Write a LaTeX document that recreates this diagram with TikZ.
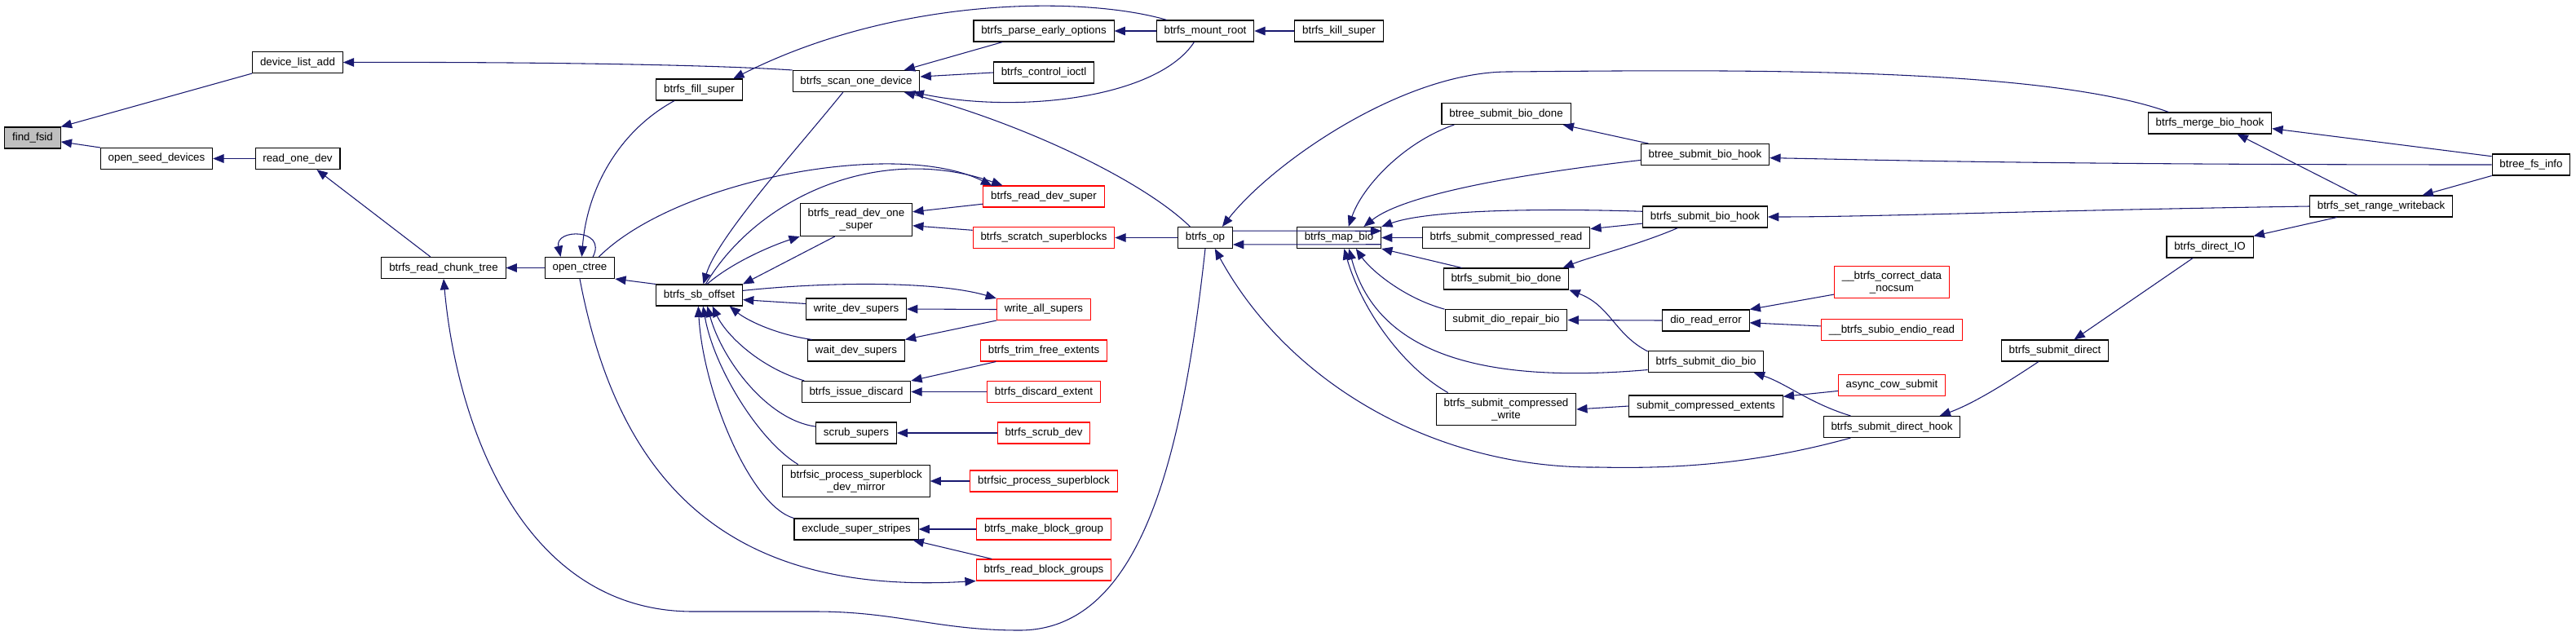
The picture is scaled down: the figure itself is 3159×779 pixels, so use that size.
\documentclass[tikz,border=0pt]{standalone}
\usepackage{fontspec}
\setmainfont{Liberation Sans}
\usepackage{xcolor}
\usepackage{tikz}
\usetikzlibrary{arrows.meta}

\definecolor{edgeblue}{RGB}{25,25,112}

\begin{document}
\begin{tikzpicture}[x=0.75pt, y=-0.75pt,
    fn/.style={draw=black, line width=0.8pt, fill=white, align=center,
        font=\fontsize{10}{11.25}\selectfont, inner xsep=7pt, inner ysep=4.7pt,
        minimum height=19.5pt},
    fnred/.style={fn, draw=red},
    fnroot/.style={fn, fill=black!25},
    call/.style={draw=edgeblue, line width=0.8pt, -{Triangle[length=10pt, width=8pt]}}]
    \useasboundingbox (0,0) rectangle (3159,779);

    % Left part
    \node[fnroot] (findfsid) at (40,169) {find\_fsid};
    \node[fn] (devlistadd) at (365,76.5) {device\_list\_add};
    \node[fn] (openseed) at (192,194.5) {open\_seed\_devices};
    \node[fn] (readonedev) at (365,194.5) {read\_one\_dev};
    \node[fn] (readchunk) at (544,328.5) {btrfs\_read\_chunk\_tree};
    \node[fn] (openctree) at (711,328.5) {open\_ctree};
    \node[fn] (fillsuper) at (857.5,110) {btrfs\_fill\_super};
    \node[fn] (sboffset) at (857.5,362) {btrfs\_sb\_offset};

    % Callers of btrfs_sb_offset
    \node[fn] (scanone) at (1050,99.5) {btrfs\_scan\_one\_device};
    \node[fn] (readdevone) at (1050,269.5) {btrfs\_read\_dev\_one\\\_super};
    \node[fn] (writedev) at (1050,379) {write\_dev\_supers};
    \node[fn] (waitdev) at (1050,430) {wait\_dev\_supers};
    \node[fn] (issuediscard) at (1050,480.5) {btrfs\_issue\_discard};
    \node[fn] (scrubsupers) at (1050,531) {scrub\_supers};
    \node[fn] (devmirror) at (1050,590) {btrfsic\_process\_superblock\\\_dev\_mirror};
    \node[fn] (exclstripes) at (1050,649) {exclude\_super\_stripes};
    \node[fn] (parseopts) at (1280,38) {btrfs\_parse\_early\_options};
    \node[fn] (ctlioctl) at (1280,89) {btrfs\_control\_ioctl};
    \node[fnred] (readdevsuper) at (1280,241) {btrfs\_read\_dev\_super};
    \node[fnred] (scratchsb) at (1280,291.5) {btrfs\_scratch\_superblocks};
    \node[fnred] (writeall) at (1280,379.5) {write\_all\_supers};
    \node[fnred] (trimfree) at (1280,430) {btrfs\_trim\_free\_extents};
    \node[fnred] (discardext) at (1280,480.5) {btrfs\_discard\_extent};
    \node[fnred] (scrubdev) at (1280,531) {btrfs\_scrub\_dev};
    \node[fnred] (procsb) at (1280,590) {btrfsic\_process\_superblock};
    \node[fnred] (makebg) at (1280,649) {btrfs\_make\_block\_group};
    \node[fnred] (readbg) at (1280,699) {btrfs\_read\_block\_groups};

    % Middle part
    \node[fn] (mountroot) at (1478,38) {btrfs\_mount\_root};
    \node[fn] (btrfsop) at (1478,291.5) {btrfs\_op};
    \node[fn] (killsuper) at (1642,38) {btrfs\_kill\_super};
    \node[fn] (mapbio) at (1642,291.5) {btrfs\_map\_bio};
    \node[fn] (btreedone) at (1847,139.5) {btree\_submit\_bio\_done};
    \node[fn] (compread) at (1847,291.5) {btrfs\_submit\_compressed\_read};
    \node[fn] (biodone) at (1847,342) {btrfs\_submit\_bio\_done};
    \node[fn] (diorepair) at (1847,392.5) {submit\_dio\_repair\_bio};
    \node[fn] (compwrite) at (1847,502) {btrfs\_submit\_compressed\\\_write};
    \node[fn] (btreehook) at (2091,189.5) {btree\_submit\_bio\_hook};
    \node[fn] (biohook) at (2091,266) {btrfs\_submit\_bio\_hook};
    \node[fn] (dioreaderr) at (2092,393) {dio\_read\_error};
    \node[fn] (diobio) at (2092,443.5) {btrfs\_submit\_dio\_bio};
    \node[fn] (compext) at (2092,498) {submit\_compressed\_extents};

    % Right part
    \node[fnred] (correctdata) at (2320,346) {\_\_btrfs\_correct\_data\\\_nocsum};
    \node[fnred] (subioread) at (2320,404.5) {\_\_btrfs\_subio\_endio\_read};
    \node[fnred] (asynccow) at (2320,472.5) {async\_cow\_submit};
    \node[fn] (directhook) at (2320,523.5) {btrfs\_submit\_direct\_hook};
    \node[fn] (submitdirect) at (2520,430) {btrfs\_submit\_direct};
    \node[fn] (mergehook) at (2710,151) {btrfs\_merge\_bio\_hook};
    \node[fn] (directio) at (2710,303) {btrfs\_direct\_IO};
    \node[fn] (setrange) at (2920,253) {btrfs\_set\_range\_writeback};
    \node[fn] (fsinfo) at (3104,202) {btree\_fs\_info};

    % Straight calls
    \foreach \a/\b in {devlistadd.south west/findfsid.north east, openseed.north west/findfsid.-8,
        readonedev.west/openseed.east, readchunk.140/readonedev.-30, openctree.west/readchunk.east,
        sboffset.north west/openctree.south east, parseopts.195/scanone.13, ctlioctl.west/scanone.4,
        mountroot.west/parseopts.east, killsuper.west/mountroot.east, readdevone.-142/sboffset.north east,
        readdevsuper.-173/readdevone.8, scratchsb.174/readdevone.-6, btrfsop.west/scratchsb.east,
        btrfsop.14/mapbio.9, mapbio.-9/btrfsop.-14, writedev.174/sboffset.-6, writeall.west/writedev.east,
        writeall.south west/waitdev.north east, trimfree.193/issuediscard.north east,
        discardext.west/issuediscard.east, scrubdev.west/scrubsupers.east, procsb.west/devmirror.east,
        makebg.west/exclstripes.east, readbg.168/exclstripes.-11, btreehook.169/btreedone.-11,
        biohook.186/compread.6, compread.west/mapbio.east, biodone.166/mapbio.south east,
        dioreaderr.west/diorepair.east, correctdata.192/dioreaderr.north east, subioread.177/dioreaderr.-3,
        asynccow.186/compext.7, compext.west/compwrite.east, directio.-147/submitdirect.30,
        setrange.-166/directio.north east, setrange.155/mergehook.-22, fsinfo.168/mergehook.-5,
        fsinfo.south west/setrange.15} {
        \draw[call] (\a) -- (\b);
    }

    % Curved calls, left part
    \draw[call] (scanone.north west) .. controls (850,78) and (600,76) .. (devlistadd.east);
    \draw[call] (btrfsop.south) .. controls (1450,560) and (1400,773) .. (1250,773)
        .. controls (1150,773) and (1100,750) .. (1000,750) -- (850,750)
        .. controls (640,750) and (560,520) .. (readchunk.south);
    \draw[call] (openctree.40) .. controls (745,280) and (680,280) .. (openctree.150);
    \draw[call] (openctree.south) .. controls (760,600) and (900,730) .. (readbg.south west);
    \draw[call] (openctree.30) .. controls (830,220) and (1100,170) .. (readdevsuper.168);
    \draw[call] (sboffset.60) .. controls (930,240) and (1080,175) .. (readdevsuper.165);
    \draw[call] (fillsuper.-156) .. controls (760,160) and (720,230) .. (openctree.80);
    \draw[call] (mountroot.164) .. controls (1330,-5) and (1100,-5) .. (fillsuper.18);
    \draw[call] (mountroot.-135) .. controls (1420,120) and (1250,140) .. (scanone.-11);
    \draw[call] (btrfsop.144) .. controls (1400,220) and (1250,150) .. (scanone.-13);
    \draw[call] (scanone.-140) .. controls (980,180) and (880,290) .. (sboffset.70);
    \draw[call] (sboffset.55) .. controls (900,320) and (950,300) .. (readdevone.south west);
    \draw[call] (sboffset.6) .. controls (1020,345) and (1150,345) .. (writeall.north west);
    \draw[call] (waitdev.166) .. controls (950,410) and (915,392) .. (sboffset.-20);
    \draw[call] (issuediscard.168) .. controls (930,450) and (890,410) .. (sboffset.-40);
    \draw[call] (scrubsupers.171) .. controls (940,515) and (885,440) .. (sboffset.-54);
    \draw[call] (devmirror.164) .. controls (930,540) and (875,450) .. (sboffset.-71);
    \draw[call] (exclstripes.170) .. controls (920,620) and (862,480) .. (sboffset.-95);

    % Curved calls, right part
    \draw[call] (mergehook.165) .. controls (2500,80) and (2100,86) .. (1850,88)
        .. controls (1720,88) and (1560,200) .. (btrfsop.33);
    \draw[call] (btreedone.192) .. controls (1720,175) and (1670,230) .. (mapbio.49);
    \draw[call] (btreehook.185) .. controls (1850,215) and (1720,240) .. (mapbio.24);
    \draw[call] (fsinfo.west) .. controls (2500,202) and (2300,196) .. (btreehook.-3);
    \draw[call] (biohook.175) .. controls (1880,255) and (1750,258) .. (mapbio.north east);
    \draw[call] (biohook.-158) .. controls (2010,300) and (1950,315) .. (biodone.11);
    \draw[call] (setrange.west) .. controls (2500,258) and (2300,266) .. (biohook.east);
    \draw[call] (diorepair.170) .. controls (1720,365) and (1680,330) .. (mapbio.-33);
    \draw[call] (diobio.188) .. controls (1830,470) and (1690,440) .. (mapbio.-48);
    \draw[call] (compwrite.164) .. controls (1720,450) and (1670,380) .. (mapbio.-65);
    \draw[call] (directhook.195) .. controls (2150,570) and (2050,575) .. (1960,573)
        .. controls (1760,575) and (1580,470) .. (btrfsop.-49);
    \draw[call] (diobio.170) .. controls (1980,410) and (1975,375) .. (biodone.south east);
    \draw[call] (directhook.165) .. controls (2220,495) and (2190,470) .. (diobio.-13);
    \draw[call] (submitdirect.-146) .. controls (2460,470) and (2420,495) .. (directhook.13);
\end{tikzpicture}
\end{document}
